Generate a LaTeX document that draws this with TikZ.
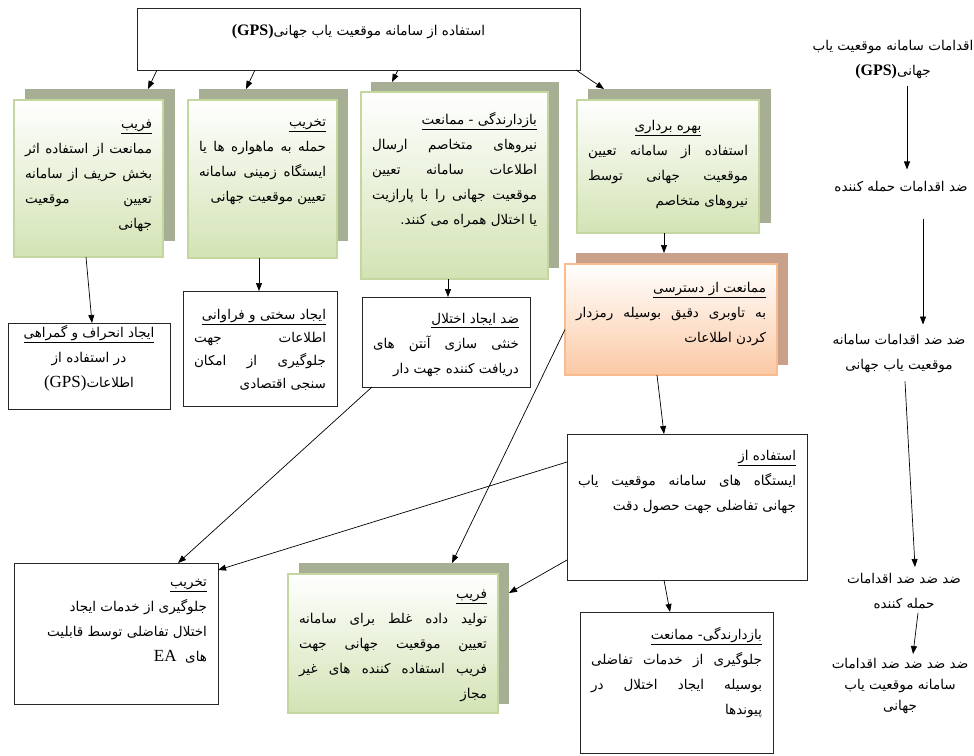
\documentclass[tikz,border=0pt]{standalone}
\usepackage{fontspec}
\usetikzlibrary{arrows.meta}
\newfontfamily\fafont[Script=Arabic]{DejaVu Sans}
\newfontfamily\latfont{Liberation Serif}
\TeXXeTstate=1
\definecolor{shgreen}{HTML}{A6AE93}
\definecolor{lightgreen}{HTML}{D3E3B4}
\definecolor{linegreen}{HTML}{C4D79F}
\definecolor{shorange}{HTML}{C9A08A}
\definecolor{lightorange}{HTML}{FBC9A4}
\definecolor{lineorange}{HTML}{F8BC8E}
% one right-to-left line, justified line, latin piece
\newcommand{\rl}[1]{\beginR #1\endR}
\newcommand{\jl}[1]{\makebox[\linewidth][s]{\beginR #1\endR}}
\newcommand{\latin}[1]{\beginL{\latfont\fontsize{17}{18}\selectfont #1}\endL}
\newcommand{\gpsbold}{\beginL{\latfont\bfseries\fontsize{16}{18}\selectfont (GPS)}\endL}
\newcommand{\boxtext}[4][14pt]{\parbox[t][#3][t]{#2}{\fafont\fontsize{13.5}{25}\selectfont\vspace*{#1}\raggedleft #4}}
\begin{document}
\begin{tikzpicture}[x=1pt, y=-1pt, >={Triangle[length=8pt,width=6pt]}]
	\tikzstyle{plainbox}=[draw=black!85, line width=0.7pt, fill=white, anchor=north west, inner xsep=11pt, inner ysep=6pt, outer sep=0pt]
	\tikzstyle{greenback}=[fill=shgreen, anchor=north west, inner sep=0pt, outer sep=0pt]
	\tikzstyle{greenbox}=[draw=linegreen, line width=1.2pt, top color=white, bottom color=lightgreen, anchor=north west, inner xsep=11pt, inner ysep=6pt, outer sep=0pt]
	\tikzstyle{orangeback}=[fill=shorange, anchor=north west, inner sep=0pt, outer sep=0pt]
	\tikzstyle{orangebox}=[draw=lineorange, line width=1.2pt, top color=white, bottom color=lightorange, anchor=north west, inner xsep=11pt, inner ysep=6pt, outer sep=0pt]
	\tikzstyle{coltext}=[align=center, inner sep=0pt, font=\fafont\fontsize{13.5}{25}\selectfont]
	\useasboundingbox (0,0) rectangle (974,755);
	
	% top row
	\draw node[plainbox] at (137, 8) (gps) {\boxtext[10pt]{421pt}{50pt}{\centering\rl{استفاده از سامانه موقعیت یاب جهانی\gpsbold}}};
	
	\draw node[greenback, minimum width=150pt, minimum height=152pt] at (25, 89) (sh1) {};
	\draw node[greenbox] at (14, 100) (deceive) {\boxtext{127pt}{145pt}{\underline{\rl{فریب}}\\ \jl{ممانعت از استفاده اثر}\\ \jl{بخش حریف از سامانه}\\ \jl{تعیین موقعیت}\\ \rl{جهانی}}};
	
	\draw node[greenback, minimum width=149pt, minimum height=152pt] at (199, 89) (sh2) {};
	\draw node[greenbox] at (188, 100) (destroy) {\boxtext[13pt]{127pt}{146pt}{\underline{\rl{تخریب}}\\ \jl{حمله به ماهواره ها یا}\\ \jl{ایستگاه زمینی سامانه}\\ \rl{تعیین موقعیت جهانی}}};
	
	\draw node[greenback, minimum width=188pt, minimum height=186pt] at (371, 82) (sh3) {};
	\draw node[greenbox] at (361, 92) (jam) {\boxtext{165pt}{175pt}{\underline{\rl{بازدارندگی - ممانعت}}\\ \jl{نیروهای متخاصم ارسال}\\ \jl{اطلاعات سامانه تعیین}\\ \jl{موقعیت جهانی را با پارازیت}\\ \rl{یا اختلال همراه می کنند.}}};
	
	\draw node[greenback, minimum width=183pt, minimum height=134pt] at (588, 89) (sh4) {};
	\draw node[greenbox] at (577, 100) (exploit) {\boxtext{160pt}{121pt}{\centerline{\underline{\rl{بهره برداری}}}\jl{استفاده از سامانه تعیین}\\ \jl{موقعیت جهانی توسط}\\ \rl{نیروهای متخاصم}}};
	
	\draw node[orangeback, minimum width=212pt, minimum height=112pt] at (576, 253) (sh5) {};
	\draw node[orangebox] at (565, 264) (access) {\boxtext[12pt]{190pt}{99pt}{\underline{\rl{ممانعت از دسترسی}}\\ \jl{به تاوبری دقیق بوسیله رمزدار}\\ \rl{کردن اطلاعات}}};
	
	% second row
	\draw node[plainbox] at (8, 323) (mislead) {\boxtext[-4pt]{140pt}{74pt}{\centering\underline{\rl{ایجاد انحراف و گمراهی}}\\ \rl{در استفاده از}\\ \rl{اطلاعات\latin{(GPS)}}}};
	\draw node[plainbox] at (183, 291) (harden) {\boxtext[12pt]{132pt}{103pt}{\fontsize{13.5}{23}\selectfont\underline{\rl{ایجاد سختی و فراوانی}}\\ \jl{اطلاعات جهت}\\ \jl{جلوگیری از امکان}\\ \rl{سنجی اقتصادی}}};
	\draw node[plainbox] at (362, 297) (antijam) {\boxtext[10pt]{146pt}{78pt}{\underline{\rl{ضد ایجاد اختلال}}\\ \jl{خنثی سازی آنتن های}\\ \rl{دریافت کننده جهت دار}}};
	\draw node[plainbox] at (567, 434) (dgps) {\boxtext[10pt]{218pt}{134pt}{\underline{\rl{استفاده از}}\\ \jl{ایستگاه های سامانه موقعیت یاب}\\ \rl{جهانی تفاضلی جهت حصول دقت}}};
	
	% bottom row
	\draw node[plainbox] at (14, 563) (destroy2) {\boxtext[10pt]{182pt}{129pt}{\underline{\rl{تخریب}}\\ \rl{جلوگیری از خدمات ایجاد}\\ \rl{اختلال تفاضلی توسط قابلیت}\\ \rl{های\ \ \latin{EA}}}};
	\draw node[greenback, minimum width=210pt, minimum height=141pt] at (299, 563) (sh10) {};
	\draw node[greenbox] at (288, 574) (deceive2) {\boxtext[10pt]{188pt}{127pt}{\underline{\rl{فریب}}\\ \jl{تولید داده غلط برای سامانه}\\ \jl{تعیین موقعیت جهانی جهت}\\ \jl{فریب استفاده کننده های غیر}\\ \rl{مجاز}}};
	\draw node[plainbox] at (580, 612) (deter) {\boxtext[9pt]{171pt}{129pt}{\underline{\rl{بازدارندگی- ممانعت}}\\ \jl{جلوگیری از خدمات تفاضلی}\\ \jl{بوسیله ایجاد اختلال در}\\ \rl{پیوندها}}};
	
	% right column
	\draw node[coltext] at (893, 60) (r1) {\rl{اقدامات سامانه موقعیت یاب}\\ \rl{جهانی\gpsbold}};
	\draw node[coltext] at (901, 187) (r2) {\rl{ضد اقدامات حمله کننده}};
	\draw node[coltext] at (899, 354) (r3) {\rl{ضد ضد اقدامات سامانه}\\ \rl{موقعیت یاب جهانی}};
	\draw node[coltext] at (904, 591) (r4) {\rl{ضد ضد ضد اقدامات}\\ \rl{حمله کننده}};
	\draw node[coltext, font=\fafont\fontsize{13.5}{21}\selectfont] at (900, 686) (r5) {\rl{ضد ضد ضد ضد اقدامات}\\ \rl{سامانه موقعیت یاب}\\ \rl{جهانی}};
	
	\draw [->, line width=0.7pt] ([xshift=20pt]gps.south west) -- ([xshift=123pt]sh1.north west);
	\draw [->, line width=0.7pt] ([xshift=118pt]gps.south west) -- ([xshift=47pt]sh2.north west);
	\draw [->, line width=0.7pt] ([xshift=261pt]gps.south west) -- ([xshift=21pt]sh3.north west);
	\draw [->, line width=0.7pt] ([xshift=-4pt]gps.south east) -- ([xshift=16pt]sh4.north west);
	\draw [->, line width=0.7pt] ([xshift=-4pt]exploit.south) -- ([xshift=-18pt]sh5.north);
	\draw [->, line width=0.7pt] ([xshift=72pt]deceive.south west) -- ([xshift=84pt]mislead.north west);
	\draw [->, line width=0.7pt] ([xshift=71pt]destroy.south west) -- ([xshift=76pt]harden.north west);
	\draw [->, line width=0.7pt] ([xshift=87pt]jam.south west) -- ([xshift=86pt]antijam.north west);
	\draw [->, line width=0.7pt] ([xshift=92pt]access.south west) -- ([xshift=97pt]dgps.north west);
	\draw [->, line width=0.7pt] ([xshift=10pt]antijam.south west) -- ([xshift=164pt]destroy2.north west);
	\draw [->, line width=0.7pt] ([yshift=-28pt]dgps.north west) -- ([yshift=-7pt]destroy2.north east);
	\draw [->, line width=0.7pt] ([yshift=-10pt]access.west) -- ([xshift=153pt]sh10.north west);
	\draw [->, line width=0.7pt] ([yshift=20pt]dgps.south west) -- ([yshift=-30pt]sh10.north east);
	\draw [->, line width=0.7pt] ([xshift=97pt]dgps.south west) -- ([xshift=90pt]deter.north west);
	
	\draw [->, line width=0.7pt] ([xshift=14pt,yshift=-6pt]r1.south) -- ([xshift=6pt,yshift=12pt]r2.north);
	\draw [->, line width=0.7pt] ([xshift=22pt,yshift=-26pt]r2.south) -- ([xshift=24pt,yshift=10pt]r3.north);
	\draw [->, line width=0.7pt] ([xshift=6pt,yshift=-8pt]r3.south) -- ([xshift=11pt,yshift=6pt]r4.north);
	\draw [->, line width=0.7pt] ([xshift=14pt,yshift=-4pt]r4.south) -- ([xshift=13pt,yshift=4pt]r5.north);
\end{tikzpicture}
\end{document}
